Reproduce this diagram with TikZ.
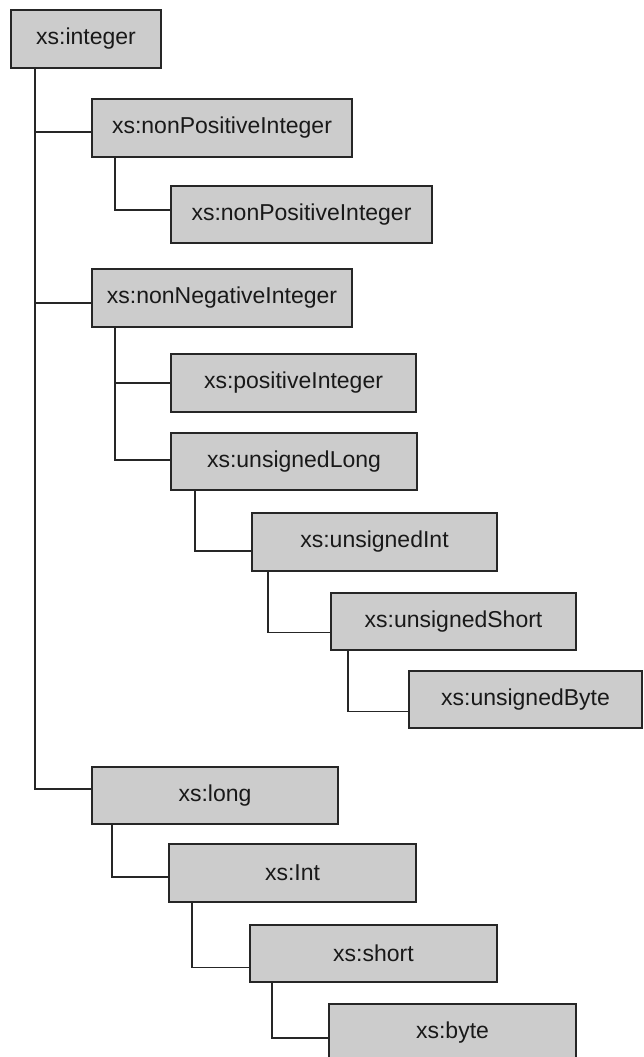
\documentclass[tikz,border=0pt]{standalone}
\usepackage{fontspec}
\setmainfont{Liberation Sans}
\begin{document}
\begin{tikzpicture}[x=1pt,y=-1pt,
  typebox/.style={draw=black!85, line width=1.4pt, fill=black!20, anchor=north west,
    inner sep=0pt, outer sep=0pt, minimum height=57pt,
    font=\fontsize{23}{27}\selectfont, text=black!90},
  conn/.style={draw=black!85, line width=1.4pt}]
\useasboundingbox (0,0) rectangle (643,1057);

% type hierarchy boxes
\node[typebox, minimum width=150pt, minimum height=58pt] (integer)  at (11,10)   {xs:integer};
\node[typebox, minimum width=260pt, minimum height=58pt] (nonpos)   at (92,99)   {xs:nonPositiveInteger};
\node[typebox, minimum width=261pt] (nonposc)  at (171,186)  {xs:nonPositiveInteger};
\node[typebox, minimum width=260pt, minimum height=58pt] (nonneg)   at (92,269)  {xs:nonNegativeInteger};
\node[typebox, minimum width=245pt, minimum height=58pt] (positive) at (171,354)  {xs:positiveInteger};
\node[typebox, minimum width=246pt] (ulong)    at (171,433)  {xs:unsignedLong};
\node[typebox, minimum width=245pt, minimum height=58pt] (uint)     at (252,513)  {xs:unsignedInt};
\node[typebox, minimum width=245pt] (ushort)   at (331,593)  {xs:unsignedShort};
\node[typebox, minimum width=233pt] (ubyte)    at (409,671)  {xs:unsignedByte};
\node[typebox, minimum width=246pt] (long)     at (92,767)   {xs:long};
\node[typebox, minimum width=247pt, minimum height=58pt] (int)      at (169,844)  {xs:Int};
\node[typebox, minimum width=247pt] (short)    at (250,925)  {xs:short};
\node[typebox, minimum width=247pt, minimum height=58pt] (byte)     at (329,1004) {xs:byte};

% tree connectors
\draw[conn] ([xshift=24pt]integer.south west) |- ([yshift=-4pt]nonpos.west);
\draw[conn] ([xshift=24pt]integer.south west) |- ([yshift=-5pt]nonneg.west);
\draw[conn] ([xshift=24pt]integer.south west) |- ([yshift=6.5pt]long.west);

\draw[conn] ([xshift=23pt]nonpos.south west) |- ([yshift=4.5pt]nonposc.west);

\draw[conn] ([xshift=23pt]nonneg.south west) |- (positive.west);
\draw[conn] ([xshift=23pt]nonneg.south west) |- ([yshift=1.5pt]ulong.west);

\draw[conn] ([xshift=24pt]ulong.south west) |- ([yshift=-9pt]uint.west);
\draw[conn] ([xshift=16pt]uint.south west) |- ([yshift=-11pt]ushort.west);
\draw[conn] ([xshift=17pt]ushort.south west) |- ([yshift=-12pt]ubyte.west);

\draw[conn] ([xshift=20pt]long.south west) |- ([yshift=-4pt]int.west);
\draw[conn] ([xshift=23pt]int.south west) |- ([yshift=-14pt]short.west);
\draw[conn] ([xshift=22pt]short.south west) |- ([yshift=-5pt]byte.west);
\end{tikzpicture}
\end{document}
